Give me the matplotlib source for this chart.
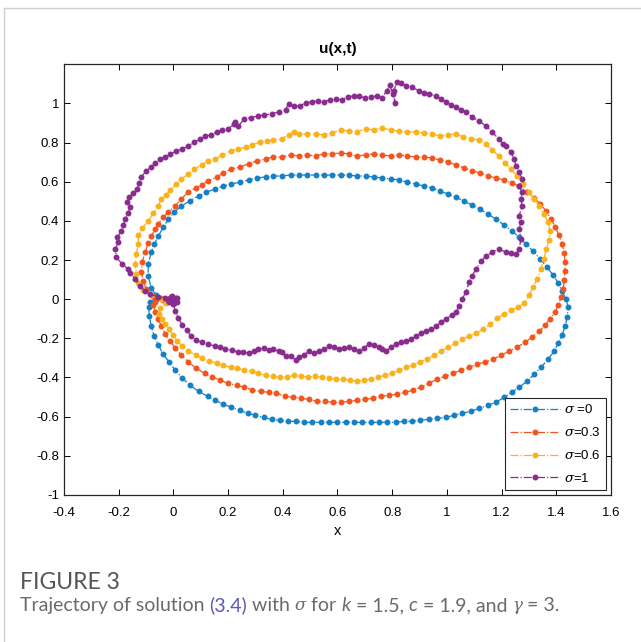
import numpy as np
import matplotlib.pyplot as plt
from matplotlib.lines import Line2D

# sigma = 0
x0 = [-0.011, -0.037, -0.062, -0.081, -0.092, -0.092, -0.081, -0.070, -0.055, -0.037,
      -0.018, 0.004, 0.029, 0.059, 0.092, 0.121, 0.154, 0.183, 0.212, 0.245,
      0.275, 0.304, 0.337, 0.366, 0.396, 0.429, 0.458, 0.487, 0.520, 0.549,
      0.579, 0.612, 0.641, 0.670, 0.703, 0.733, 0.762, 0.795, 0.824, 0.853,
      0.886, 0.916, 0.945, 0.974, 1.004, 1.033, 1.062, 1.092, 1.121, 1.150,
      1.179, 1.209, 1.238, 1.264, 1.289, 1.315, 1.341, 1.366, 1.388, 1.407,
      1.421, 1.436, 1.443, 1.440, 1.432, 1.421, 1.407, 1.392, 1.370, 1.344,
      1.319, 1.293, 1.264, 1.238, 1.209, 1.179, 1.150, 1.117, 1.088, 1.055,
      1.026, 0.996, 0.963, 0.934, 0.901, 0.872, 0.842, 0.813, 0.780, 0.751,
      0.722, 0.689, 0.659, 0.630, 0.597, 0.568, 0.538, 0.505, 0.476, 0.447,
      0.418, 0.388, 0.359, 0.330, 0.300, 0.271, 0.242, 0.212, 0.183, 0.154,
      0.125, 0.092, 0.062, 0.033, 0.007, -0.015, -0.037, -0.055, -0.070, -0.081,
      -0.088, -0.090, -0.086, -0.066]
y0 = [-0.005, 0.000, 0.020, 0.056, 0.118, 0.179, 0.240, 0.281, 0.322, 0.368,
      0.409, 0.445, 0.476, 0.501, 0.527, 0.547, 0.563, 0.578, 0.588, 0.598,
      0.609, 0.619, 0.624, 0.629, 0.629, 0.634, 0.634, 0.634, 0.634, 0.634,
      0.634, 0.634, 0.634, 0.629, 0.629, 0.624, 0.619, 0.614, 0.609, 0.598,
      0.588, 0.578, 0.568, 0.552, 0.537, 0.522, 0.501, 0.481, 0.460, 0.435,
      0.409, 0.379, 0.348, 0.317, 0.281, 0.246, 0.205, 0.164, 0.123, 0.082,
      0.041, 0.000, -0.041, -0.092, -0.138, -0.184, -0.225, -0.266, -0.307, -0.348,
      -0.384, -0.419, -0.450, -0.476, -0.501, -0.527, -0.542, -0.558, -0.573, -0.583,
      -0.593, -0.604, -0.609, -0.614, -0.619, -0.624, -0.624, -0.629, -0.629, -0.629,
      -0.629, -0.629, -0.629, -0.629, -0.629, -0.629, -0.629, -0.629, -0.629, -0.624,
      -0.624, -0.619, -0.614, -0.604, -0.593, -0.583, -0.568, -0.552, -0.537, -0.517,
      -0.496, -0.471, -0.440, -0.404, -0.363, -0.322, -0.281, -0.235, -0.189, -0.138,
      -0.087, -0.041, -0.015, -0.005]

# sigma = 0.3
x1 = [-0.011, -0.044, -0.073, -0.099, -0.110, -0.117, -0.114, -0.103, -0.092, -0.081,
      -0.066, -0.055, -0.037, -0.018, 0.007, 0.029, 0.055, 0.081, 0.103, 0.128,
      0.158, 0.183, 0.212, 0.242, 0.275, 0.304, 0.337, 0.366, 0.396, 0.429,
      0.458, 0.487, 0.520, 0.549, 0.579, 0.612, 0.641, 0.670, 0.703, 0.733,
      0.762, 0.795, 0.824, 0.853, 0.886, 0.916, 0.945, 0.974, 1.004, 1.033,
      1.062, 1.092, 1.121, 1.150, 1.179, 1.209, 1.238, 1.264, 1.293, 1.319,
      1.341, 1.363, 1.381, 1.396, 1.410, 1.421, 1.429, 1.432, 1.432, 1.429,
      1.425, 1.418, 1.407, 1.396, 1.377, 1.359, 1.337, 1.311, 1.286, 1.256,
      1.227, 1.198, 1.168, 1.139, 1.110, 1.081, 1.051, 1.022, 0.993, 0.963,
      0.934, 0.905, 0.875, 0.846, 0.817, 0.788, 0.758, 0.729, 0.700, 0.670,
      0.641, 0.612, 0.582, 0.553, 0.524, 0.495, 0.465, 0.436, 0.407, 0.377,
      0.348, 0.319, 0.289, 0.260, 0.231, 0.201, 0.172, 0.143, 0.114, 0.084,
      0.055, 0.029, 0.007, -0.011, -0.029, -0.044, -0.055, -0.066, -0.073, -0.066,
      -0.037]
y1 = [-0.005, 0.005, 0.015, 0.051, 0.092, 0.138, 0.189, 0.240, 0.286, 0.322,
      0.358, 0.384, 0.419, 0.445, 0.476, 0.512, 0.547, 0.568, 0.583, 0.604,
      0.624, 0.645, 0.665, 0.675, 0.691, 0.706, 0.716, 0.726, 0.726, 0.737,
      0.731, 0.737, 0.731, 0.742, 0.742, 0.747, 0.742, 0.731, 0.737, 0.742,
      0.737, 0.731, 0.737, 0.731, 0.726, 0.726, 0.721, 0.711, 0.701, 0.685,
      0.670, 0.655, 0.645, 0.629, 0.619, 0.609, 0.593, 0.578, 0.547, 0.517,
      0.486, 0.450, 0.409, 0.368, 0.327, 0.281, 0.235, 0.189, 0.143, 0.097,
      0.051, 0.010, -0.031, -0.066, -0.102, -0.133, -0.164, -0.194, -0.220, -0.246,
      -0.266, -0.286, -0.307, -0.322, -0.332, -0.348, -0.363, -0.379, -0.394, -0.409,
      -0.430, -0.450, -0.465, -0.476, -0.486, -0.491, -0.496, -0.506, -0.512, -0.517,
      -0.522, -0.527, -0.527, -0.522, -0.522, -0.512, -0.506, -0.501, -0.496, -0.481,
      -0.476, -0.471, -0.465, -0.450, -0.440, -0.430, -0.414, -0.399, -0.379, -0.353,
      -0.322, -0.286, -0.251, -0.215, -0.179, -0.138, -0.102, -0.066, -0.031, -0.012,
      -0.004]

# sigma = 0.6
x2 = [-0.011, -0.044, -0.081, -0.110, -0.128, -0.136, -0.139, -0.136, -0.128, -0.128,
      -0.114, -0.092, -0.073, -0.055, -0.044, -0.026, -0.011, 0.011, 0.029, 0.055,
      0.077, 0.103, 0.128, 0.154, 0.179, 0.209, 0.238, 0.264, 0.289, 0.315,
      0.341, 0.366, 0.396, 0.421, 0.440, 0.458, 0.487, 0.520, 0.549, 0.579,
      0.612, 0.641, 0.670, 0.703, 0.733, 0.762, 0.795, 0.824, 0.853, 0.886,
      0.916, 0.945, 0.974, 1.004, 1.033, 1.059, 1.088, 1.117, 1.143, 1.165,
      1.190, 1.212, 1.234, 1.256, 1.278, 1.300, 1.319, 1.337, 1.355, 1.370,
      1.377, 1.374, 1.363, 1.355, 1.344, 1.330, 1.315, 1.300, 1.282, 1.260,
      1.234, 1.209, 1.183, 1.158, 1.132, 1.106, 1.081, 1.055, 1.029, 1.004,
      0.978, 0.952, 0.927, 0.901, 0.875, 0.850, 0.824, 0.799, 0.773, 0.747,
      0.722, 0.696, 0.670, 0.645, 0.619, 0.593, 0.568, 0.542, 0.516, 0.491,
      0.465, 0.440, 0.414, 0.388, 0.363, 0.337, 0.311, 0.286, 0.260, 0.234,
      0.209, 0.183, 0.158, 0.132, 0.106, 0.081, 0.055, 0.033, 0.015, 0.000,
      -0.015, -0.030, -0.040, -0.051, -0.048, -0.026]
y2 = [-0.010, 0.000, 0.020, 0.046, 0.082, 0.128, 0.179, 0.230, 0.281, 0.327,
      0.363, 0.399, 0.440, 0.476, 0.512, 0.532, 0.558, 0.588, 0.614, 0.639,
      0.665, 0.685, 0.706, 0.716, 0.737, 0.757, 0.767, 0.777, 0.788, 0.803,
      0.808, 0.813, 0.818, 0.839, 0.854, 0.844, 0.844, 0.844, 0.839, 0.849,
      0.864, 0.859, 0.854, 0.870, 0.864, 0.875, 0.864, 0.859, 0.854, 0.854,
      0.849, 0.844, 0.834, 0.839, 0.844, 0.829, 0.818, 0.813, 0.793, 0.762,
      0.731, 0.696, 0.665, 0.629, 0.588, 0.547, 0.512, 0.476, 0.435, 0.394,
      0.348, 0.302, 0.256, 0.205, 0.153, 0.102, 0.061, 0.020, -0.020, -0.041,
      -0.056, -0.077, -0.097, -0.128, -0.153, -0.174, -0.189, -0.205, -0.225, -0.246,
      -0.266, -0.286, -0.307, -0.322, -0.338, -0.348, -0.363, -0.379, -0.389, -0.399,
      -0.409, -0.414, -0.419, -0.414, -0.409, -0.409, -0.404, -0.399, -0.394, -0.399,
      -0.394, -0.389, -0.399, -0.399, -0.394, -0.389, -0.379, -0.368, -0.363, -0.353,
      -0.348, -0.338, -0.327, -0.317, -0.302, -0.286, -0.266, -0.240, -0.215, -0.184,
      -0.153, -0.128, -0.100, -0.075, -0.046, -0.020]

# sigma = 1
x3 = [0.000, 0.010, 0.004, -0.012, -0.020, -0.008, 0.006, 0.015, 0.012, -0.004,
      -0.016, 0.002, -0.030, -0.055, -0.084,
      -0.103, -0.121, -0.139, -0.158, -0.165, -0.187, -0.209, -0.212, -0.201, -0.205,
      -0.190, -0.183, -0.176, -0.165, -0.158, -0.168, -0.161, -0.147, -0.132, -0.125,
      -0.117, -0.099, -0.081, -0.066, -0.048, -0.029, -0.011, 0.011, 0.033, 0.055,
      0.077, 0.099, 0.117, 0.139, 0.158, 0.179, 0.201, 0.223, 0.227, 0.238,
      0.260, 0.282, 0.308, 0.333, 0.359, 0.385, 0.410, 0.421, 0.440, 0.462,
      0.484, 0.505, 0.527, 0.549, 0.571, 0.593, 0.615, 0.637, 0.659, 0.678,
      0.700, 0.722, 0.744, 0.762, 0.780, 0.791, 0.802, 0.810, 0.806, 0.817,
      0.832, 0.850, 0.872, 0.897, 0.916, 0.934, 0.960, 0.978, 0.996, 1.015,
      1.033, 1.051, 1.070, 1.092, 1.117, 1.143, 1.165, 1.190, 1.205, 1.216,
      1.234, 1.245, 1.253, 1.264, 1.275, 1.264, 1.275, 1.271, 1.275, 1.264,
      1.271, 1.264, 1.271, 1.264, 1.253, 1.234, 1.216, 1.190, 1.165, 1.143,
      1.125, 1.106, 1.092, 1.081, 1.070, 1.055, 1.044, 1.033, 1.018, 0.996,
      0.978, 0.960, 0.941, 0.923, 0.905, 0.886, 0.868, 0.850, 0.832, 0.813,
      0.795, 0.777, 0.762, 0.751, 0.733, 0.714, 0.696, 0.678, 0.659, 0.641,
      0.623, 0.604, 0.586, 0.568, 0.549, 0.531, 0.513, 0.495, 0.476, 0.458,
      0.447, 0.429, 0.410, 0.396, 0.385, 0.366, 0.348, 0.330, 0.311, 0.293,
      0.275, 0.256, 0.238, 0.216, 0.190, 0.172, 0.154, 0.128, 0.103, 0.084,
      0.066, 0.048, 0.033, 0.018, 0.007, 0.000]
y3 = [0.000, 0.008, -0.010, 0.006, -0.004, 0.012, -0.006, 0.004, -0.012, 0.016,
      -0.014, -0.018, 0.004, 0.010, 0.026,
      0.041, 0.066, 0.102, 0.133, 0.153, 0.179, 0.215, 0.256, 0.292, 0.317,
      0.348, 0.379, 0.409, 0.440, 0.471, 0.496, 0.522, 0.542, 0.563, 0.593,
      0.624, 0.655, 0.675, 0.696, 0.716, 0.726, 0.742, 0.757, 0.767, 0.783,
      0.803, 0.818, 0.834, 0.839, 0.854, 0.864, 0.870, 0.895, 0.905, 0.885,
      0.921, 0.926, 0.936, 0.941, 0.946, 0.957, 0.967, 0.997, 0.987, 0.987,
      1.003, 1.008, 1.013, 1.008, 1.018, 1.023, 1.018, 1.033, 1.038, 1.038,
      1.028, 1.033, 1.038, 1.028, 1.064, 1.095, 1.049, 1.003, 1.064, 1.110,
      1.105, 1.090, 1.084, 1.064, 1.054, 1.049, 1.038, 1.023, 1.008, 0.992,
      0.982, 0.967, 0.957, 0.931, 0.910, 0.885, 0.854, 0.818, 0.793, 0.783,
      0.752, 0.716, 0.680, 0.650, 0.614, 0.578, 0.547, 0.512, 0.476, 0.425,
      0.394, 0.358, 0.307, 0.256, 0.230, 0.235, 0.240, 0.256, 0.240, 0.220,
      0.194, 0.153, 0.118, 0.087, 0.036, 0.000, -0.036, -0.066, -0.082, -0.102,
      -0.118, -0.138, -0.153, -0.164, -0.174, -0.189, -0.205, -0.215, -0.220, -0.230,
      -0.246, -0.266, -0.256, -0.246, -0.235, -0.230, -0.251, -0.266, -0.256, -0.246,
      -0.251, -0.256, -0.246, -0.240, -0.256, -0.266, -0.276, -0.266, -0.286, -0.297,
      -0.312, -0.292, -0.292, -0.271, -0.266, -0.256, -0.261, -0.251, -0.256, -0.266,
      -0.276, -0.271, -0.271, -0.261, -0.256, -0.246, -0.240, -0.230, -0.220, -0.210,
      -0.189, -0.159, -0.133, -0.097, -0.061, -0.026]

series = [(x0, y0, '#1580C6', r'$\sigma$ =0'),
          (x1, y1, '#F2561E', r'$\sigma$=0.3'),
          (x2, y2, '#FBB21A', r'$\sigma$=0.6'),
          (x3, y3, '#8A2B8F', r'$\sigma$=1')]

plt.rcParams['font.family'] = ['Liberation Sans', 'DejaVu Sans']
plt.rcParams['mathtext.fontset'] = 'dejavuserif'

fig = plt.figure(figsize=(6.41, 6.42), dpi=100)
ax = fig.add_axes([0.0998, 0.229, 0.8534, 0.671])

for xs, ys, c, lab in series:
    ax.plot(xs, ys, linestyle='-.', color=c, linewidth=0.9, marker='.',
            markersize=6.5, label=lab)

ax.set_xlim(-0.4, 1.6)
ax.set_ylim(-1, 1.2)
ax.set_xticks(np.arange(-0.4, 1.61, 0.2))
ax.set_xticklabels(['-0.4', '-0.2', '0', '0.2', '0.4', '0.6', '0.8', '1', '1.2', '1.4', '1.6'])
ax.set_yticks(np.arange(-1, 1.01, 0.2))
ax.set_yticklabels(['-1', '-0.8', '-0.6', '-0.4', '-0.2', '0', '0.2', '0.4', '0.6', '0.8', '1'])
ax.tick_params(direction='in', top=True, right=True, labelsize=9.5, length=4, width=0.7)
ax.tick_params(axis='x', pad=9)
for s in ax.spines.values():
    s.set_linewidth(0.9)
    s.set_color('#262626')

ax.set_title('u(x,t)', fontsize=11, fontweight='bold', pad=8)
ax.set_xlabel('x', fontsize=10.5, labelpad=3)

leg = ax.legend(loc='lower right', fontsize=9.5, handlelength=3.8, labelspacing=0.75,
                borderaxespad=0.35, fancybox=False, edgecolor='#262626',
                framealpha=1, handletextpad=0.3, borderpad=0.4)
leg.get_frame().set_linewidth(0.8)

# panel border lines
fig.add_artist(Line2D([0.006, 1.0], [0.988, 0.988], color='#cfcfcf', linewidth=1))
fig.add_artist(Line2D([0.006, 0.006], [0.0, 0.988], color='#cfcfcf', linewidth=1))

fig.text(0.031, 0.092, 'FIGURE 3', fontsize=16.5, color='#555555',
         family=['Lato', 'DejaVu Sans'], va='center')
cap_y = 0.057
cap = fig.text(0.031, cap_y, 'Trajectory of solution ', fontsize=14, color='#6a6a6a',
               family=['Lato', 'DejaVu Sans'], va='center')
fig.canvas.draw()
parts = [('(3.4)', '#5B5BB0', 'normal'),
         (' with ', '#6a6a6a', 'normal'),
         ('σ', '#6a6a6a', 'italic'),
         (' for ', '#6a6a6a', 'normal'),
         ('k', '#6a6a6a', 'italic'),
         (' = 1.5, ', '#6a6a6a', 'normal'),
         ('c', '#6a6a6a', 'italic'),
         (' = 1.9, and ', '#6a6a6a', 'normal'),
         ('γ', '#6a6a6a', 'italic'),
         (' = 3.', '#6a6a6a', 'normal')]
r = fig.canvas.get_renderer()
prev = cap
for txt, col, sty in parts:
    bb = prev.get_window_extent(renderer=r)
    xf = bb.x1 / fig.bbox.width
    greek = txt in ('σ', 'γ')
    fam = ['DejaVu Serif'] if greek else ['Lato', 'DejaVu Sans']
    prev = fig.text(xf, cap_y, txt, fontsize=12 if greek else 14, color=col,
                    style=sty, family=fam, va='center')
    fig.canvas.draw()

fig.savefig('out.png', dpi=100)
